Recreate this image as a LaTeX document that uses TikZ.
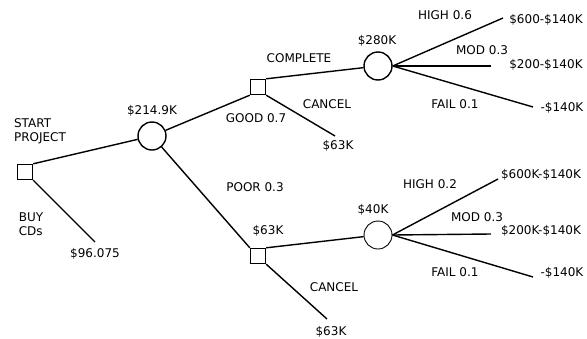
\documentclass[tikz,border=0pt]{standalone}
\usepackage{fontspec}
\setmainfont{DejaVu Sans}
\begin{document}
\begin{tikzpicture}[x=1pt,y=-1pt,line width=1.4pt,
  decision/.style={draw,rectangle,minimum size=15pt,inner sep=0pt},
  chance/.style={draw,circle,minimum size=28pt,inner sep=0pt},
  lbl/.style={font=\fontsize{12}{14}\selectfont,inner sep=0pt,align=left}]
\useasboundingbox (0,0) rectangle (587,338);
\node[decision] (start) at (25,172) {};
\node[chance] (c1) at (152,136) {};
\node[decision] (good) at (258,87) {};
\node[chance] (c2) at (378,66) {};
\node[decision] (poor) at (258,256) {};
\node[chance,line width=0.9pt] (c3) at (378,235) {};
\coordinate (buyend) at (95,242);
\coordinate (cancel1) at (335,136);
\coordinate (cancel2) at (327,319);
\coordinate (high1) at (503,18);
\coordinate (mod1) at (491,66);
\coordinate (fail1) at (533,107);
\coordinate (high2) at (498,179);
\coordinate (mod2) at (491,234);
\coordinate (fail2) at (533,277);

\draw (start.north east) -- (c1);
\draw (start.south east) -- (buyend);
\draw (c1) -- (good.south west);
\draw (c1) -- (poor.north west);
\draw (good.north east) -- (c2);
\draw (good.south east) -- (cancel1);
\draw (poor.north east) -- (c3);
\draw (poor.south east) -- (cancel2);
\draw (c2.east) -- (high1);
\draw (c2.east) -- (mod1);
\draw (c2.east) -- (fail1);
\draw (c3.east) -- (high2);
\draw (c3.east) -- (mod2);
\draw (c3.east) -- (fail2);

\node[lbl] (tstart) at (40,131) {START\\PROJECT};
\node[lbl] (tbuy) at (31,224) {BUY\\CDs};
\node[lbl] (vbuy) at (95,254) {\$96.075};
\node[lbl] (vc1) at (152,111) {\$214.9K};
\node[lbl] (tgood) at (256,118) {GOOD 0.7};
\node[lbl] (tpoor) at (255,187) {POOR 0.3};
\node[lbl] (tcomp) at (299,58) {COMPLETE};
\node[lbl] (vc2) at (377,41) {\$280K};
\node[lbl] (tcan1) at (327,104) {CANCEL};
\node[lbl] (vcan1) at (338,146) {\$63K};
\node[lbl] (thigh1) at (445,15) {HIGH 0.6};
\node[lbl] (vhigh1) at (546,20) {\$600-\$140K};
\node[lbl] (tmod1) at (482,50) {MOD 0.3};
\node[lbl] (vmod1) at (546,65) {\$200-\$140K};
\node[lbl] (tfail1) at (455,104) {FAIL 0.1};
\node[lbl] (vfail1) at (562,108) {-\$140K};
\node[lbl] (vpoor) at (268,231) {\$63K};
\node[lbl] (vc3) at (373,210) {\$40K};
\node[lbl] (tcan2) at (334,287) {CANCEL};
\node[lbl] (vcan2) at (331,332) {\$63K};
\node[lbl] (thigh2) at (430,184) {HIGH 0.2};
\node[lbl] (vhigh2) at (541,175) {\$600K-\$140K};
\node[lbl] (tmod2) at (477,217) {MOD 0.3};
\node[lbl] (vmod2) at (541,231) {\$200K-\$140K};
\node[lbl] (tfail2) at (455,272) {FAIL 0.1};
\node[lbl] (vfail2) at (562,273) {-\$140K};
\end{tikzpicture}
\end{document}
